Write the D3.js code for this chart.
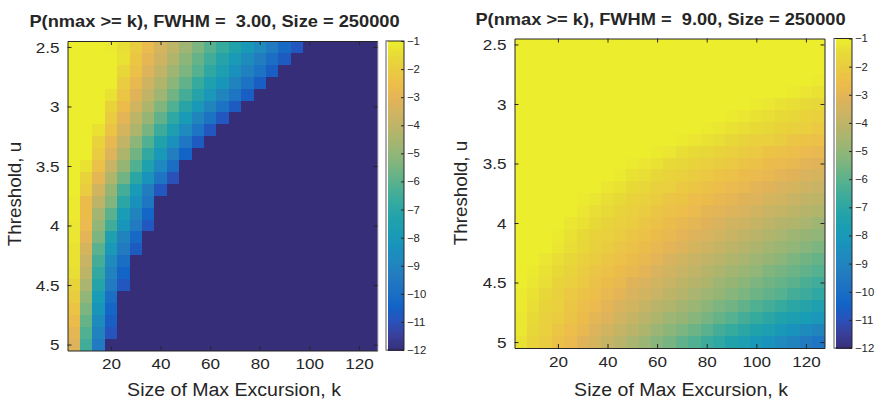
<!DOCTYPE html>
<html><head><meta charset="utf-8">
<script src="https://cdn.jsdelivr.net/npm/d3@7"></script>
<style>
body{margin:0;background:#fff}
svg{display:block}
text{font-family:"Liberation Sans",Arial,Helvetica,sans-serif;fill:#262626;white-space:pre}
</style>
</head><body>
<svg id="chart" width="877" height="401"></svg>
<script>
// ---------------- data ----------------
const kValues = [5,10,15,20,25,30,35,40,45,50,55,60,65,70,75,80,85,90,95,100,105,110,115,120,125];
const uValues = [2.5,2.6,2.7,2.8,2.9,3.0,3.1,3.2,3.3,3.4,3.5,3.6,3.7,3.8,3.9,4.0,4.1,4.2,4.3,4.4,4.5,4.6,4.7,4.8,4.9,5.0];
const xTickValues = [20,40,60,80,100,120];
const yTickValues = [2.5,3,3.5,4,4.5,5];
const yTickLabels = ["2.5","3","3.5","4","4.5","5"];
const colorbarTicks = [-1,-2,-3,-4,-5,-6,-7,-8,-9,-10,-11,-12];
const titleLeft = "P(nmax >= k), FWHM =  3.00, Size = 250000";
const titleRight = "P(nmax >= k), FWHM =  9.00, Size = 250000";
const xLabelText = "Size of Max Excursion, k";
const yLabelText = "Threshold, u";

// log10 P(nmax >= k), rows = threshold u, cols = k ; FWHM = 3
const logProbFWHM3 = [
[-1,-1,-1,-1.1,-1.4,-2,-2.7,-3.4,-4,-4.7,-5.4,-6.1,-6.7,-7.3,-8,-8.7,-9.4,-10.1,-10.8,-12,-12,-12,-12,-12,-12],
[-1,-1,-1,-1,-1.3,-2.2,-2.9,-3.6,-4.3,-5.1,-5.8,-6.5,-7.2,-7.9,-8.6,-9.3,-10,-10.7,-12,-12,-12,-12,-12,-12,-12],
[-1,-1,-1,-1,-1.6,-2.4,-3.2,-3.9,-4.7,-5.4,-6.1,-6.9,-7.6,-8.4,-9.1,-9.8,-10.6,-12,-12,-12,-12,-12,-12,-12,-12],
[-1,-1,-1,-1,-2,-2.8,-3.6,-4.3,-5.1,-5.9,-6.7,-7.5,-8.2,-9,-9.8,-10.6,-12,-12,-12,-12,-12,-12,-12,-12,-12],
[-1,-1,-1,-1.3,-2.2,-3.1,-3.9,-4.7,-5.6,-6.4,-7.2,-8.1,-8.9,-9.7,-10.6,-12,-12,-12,-12,-12,-12,-12,-12,-12,-12],
[-1,-1,-1,-1.7,-2.6,-3.5,-4.4,-5.3,-6.2,-7.1,-8,-8.9,-9.8,-10.7,-12,-12,-12,-12,-12,-12,-12,-12,-12,-12,-12],
[-1,-1,-1,-2,-3,-4,-4.9,-5.9,-6.9,-7.9,-8.9,-9.8,-10.8,-12,-12,-12,-12,-12,-12,-12,-12,-12,-12,-12,-12],
[-1,-1,-1.3,-2.3,-3.4,-4.4,-5.5,-6.6,-7.6,-8.7,-9.7,-10.8,-12,-12,-12,-12,-12,-12,-12,-12,-12,-12,-12,-12,-12],
[-1,-1,-1.7,-2.8,-3.9,-5.1,-6.2,-7.3,-8.4,-9.6,-10.7,-12,-12,-12,-12,-12,-12,-12,-12,-12,-12,-12,-12,-12,-12],
[-1,-1,-2,-3.2,-4.4,-5.6,-6.8,-8,-9.2,-10.4,-12,-12,-12,-12,-12,-12,-12,-12,-12,-12,-12,-12,-12,-12,-12],
[-1,-1.3,-2.4,-3.7,-4.9,-6.2,-7.5,-8.8,-10,-12,-12,-12,-12,-12,-12,-12,-12,-12,-12,-12,-12,-12,-12,-12,-12],
[-1,-1.7,-2.9,-4.3,-5.6,-7,-8.3,-9.7,-11,-12,-12,-12,-12,-12,-12,-12,-12,-12,-12,-12,-12,-12,-12,-12,-12],
[-1,-2,-3.5,-4.9,-6.4,-7.9,-9.3,-10.8,-12,-12,-12,-12,-12,-12,-12,-12,-12,-12,-12,-12,-12,-12,-12,-12,-12],
[-1.1,-2.6,-4,-5.3,-7,-8.4,-9.6,-12,-12,-12,-12,-12,-12,-12,-12,-12,-12,-12,-12,-12,-12,-12,-12,-12,-12],
[-1.1,-2.6,-4.6,-6,-7.8,-9,-10.3,-12,-12,-12,-12,-12,-12,-12,-12,-12,-12,-12,-12,-12,-12,-12,-12,-12,-12],
[-1.2,-2.7,-5,-6.5,-8.2,-9.4,-10.8,-12,-12,-12,-12,-12,-12,-12,-12,-12,-12,-12,-12,-12,-12,-12,-12,-12,-12],
[-1.2,-3,-5.4,-7.5,-9,-10.2,-12,-12,-12,-12,-12,-12,-12,-12,-12,-12,-12,-12,-12,-12,-12,-12,-12,-12,-12],
[-1.3,-3.4,-6,-8,-9.4,-10.7,-12,-12,-12,-12,-12,-12,-12,-12,-12,-12,-12,-12,-12,-12,-12,-12,-12,-12,-12],
[-1.3,-3.7,-6.4,-8.7,-10,-12,-12,-12,-12,-12,-12,-12,-12,-12,-12,-12,-12,-12,-12,-12,-12,-12,-12,-12,-12],
[-1.4,-4,-6.8,-9,-10.4,-12,-12,-12,-12,-12,-12,-12,-12,-12,-12,-12,-12,-12,-12,-12,-12,-12,-12,-12,-12],
[-1.7,-4.5,-7.2,-9.4,-10.8,-12,-12,-12,-12,-12,-12,-12,-12,-12,-12,-12,-12,-12,-12,-12,-12,-12,-12,-12,-12],
[-2,-5,-7.8,-10,-12,-12,-12,-12,-12,-12,-12,-12,-12,-12,-12,-12,-12,-12,-12,-12,-12,-12,-12,-12,-12],
[-2.3,-5.4,-8.2,-10.3,-12,-12,-12,-12,-12,-12,-12,-12,-12,-12,-12,-12,-12,-12,-12,-12,-12,-12,-12,-12,-12],
[-2.6,-5.8,-8.6,-10.6,-12,-12,-12,-12,-12,-12,-12,-12,-12,-12,-12,-12,-12,-12,-12,-12,-12,-12,-12,-12,-12],
[-2.9,-6.2,-9,-10.9,-12,-12,-12,-12,-12,-12,-12,-12,-12,-12,-12,-12,-12,-12,-12,-12,-12,-12,-12,-12,-12],
[-3.2,-6.5,-9.4,-12,-12,-12,-12,-12,-12,-12,-12,-12,-12,-12,-12,-12,-12,-12,-12,-12,-12,-12,-12,-12,-12]
];

// log10 P(nmax >= k) ; FWHM = 9
const logProbFWHM9 = [
[-1,-1,-1,-1,-1,-1,-1,-1,-1,-1,-1,-1,-1,-1,-1,-1,-1,-1,-1,-1,-1,-1,-1,-1,-1],
[-1,-1,-1,-1,-1,-1,-1,-1,-1,-1,-1,-1,-1,-1,-1,-1,-1,-1,-1,-1,-1,-1,-1,-1,-1],
[-1,-1,-1,-1,-1,-1,-1,-1,-1,-1,-1,-1,-1,-1,-1,-1,-1,-1,-1,-1,-1,-1,-1,-1,-1],
[-1,-1,-1,-1,-1,-1,-1,-1,-1,-1,-1,-1,-1,-1,-1,-1,-1,-1,-1,-1,-1,-1,-1,-1,-1.1],
[-1,-1,-1,-1,-1,-1,-1,-1,-1,-1,-1,-1,-1,-1,-1,-1,-1,-1,-1,-1,-1,-1,-1.1,-1.2,-1.3],
[-1,-1,-1,-1,-1,-1,-1,-1,-1,-1,-1,-1,-1,-1,-1,-1,-1,-1,-1,-1.1,-1.2,-1.3,-1.4,-1.5,-1.6],
[-1,-1,-1,-1,-1,-1,-1,-1,-1,-1,-1,-1,-1,-1,-1,-1,-1,-1.1,-1.2,-1.3,-1.4,-1.5,-1.6,-1.7,-1.8],
[-1,-1,-1,-1,-1,-1,-1,-1,-1,-1,-1,-1,-1,-1,-1,-1.1,-1.2,-1.3,-1.4,-1.5,-1.6,-1.7,-1.8,-1.9,-2.1],
[-1,-1,-1,-1,-1,-1,-1,-1,-1,-1,-1,-1,-1,-1.1,-1.2,-1.3,-1.4,-1.6,-1.7,-1.8,-1.9,-2,-2.2,-2.3,-2.4],
[-1,-1,-1,-1,-1,-1,-1,-1,-1,-1,-1,-1.1,-1.2,-1.4,-1.5,-1.6,-1.7,-1.9,-2,-2.1,-2.3,-2.4,-2.5,-2.7,-2.8],
[-1,-1,-1,-1,-1,-1,-1,-1,-1,-1.1,-1.2,-1.3,-1.5,-1.6,-1.7,-1.9,-2,-2.1,-2.3,-2.4,-2.6,-2.7,-2.8,-3,-3.1],
[-1,-1,-1,-1,-1,-1,-1,-1,-1.1,-1.3,-1.4,-1.6,-1.7,-1.8,-2,-2.1,-2.3,-2.4,-2.6,-2.7,-2.8,-3,-3.1,-3.3,-3.4],
[-1,-1,-1,-1,-1,-1,-1,-1.2,-1.3,-1.5,-1.6,-1.8,-1.9,-2.1,-2.2,-2.4,-2.5,-2.7,-2.8,-3,-3.1,-3.3,-3.4,-3.6,-3.7],
[-1,-1,-1,-1,-1,-1.1,-1.2,-1.4,-1.5,-1.7,-1.8,-2,-2.2,-2.3,-2.5,-2.6,-2.8,-2.9,-3.1,-3.2,-3.4,-3.5,-3.7,-3.9,-4],
[-1,-1,-1,-1,-1,-1.2,-1.4,-1.5,-1.7,-1.9,-2,-2.2,-2.4,-2.5,-2.7,-2.9,-3,-3.2,-3.3,-3.5,-3.7,-3.8,-4,-4.2,-4.3],
[-1,-1,-1,-1,-1.2,-1.3,-1.5,-1.7,-1.9,-2,-2.2,-2.4,-2.6,-2.8,-2.9,-3.1,-3.3,-3.5,-3.6,-3.8,-4,-4.2,-4.3,-4.5,-4.7],
[-1,-1,-1,-1.1,-1.3,-1.5,-1.7,-1.8,-2,-2.2,-2.4,-2.6,-2.8,-3,-3.2,-3.3,-3.5,-3.7,-3.9,-4.1,-4.3,-4.5,-4.7,-4.9,-5],
[-1,-1,-1,-1.2,-1.4,-1.6,-1.8,-2,-2.2,-2.4,-2.6,-2.8,-3,-3.2,-3.4,-3.6,-3.8,-4,-4.2,-4.4,-4.6,-4.8,-5,-5.2,-5.4],
[-1,-1,-1.2,-1.4,-1.6,-1.8,-2,-2.2,-2.4,-2.6,-2.8,-3,-3.3,-3.5,-3.7,-3.9,-4.1,-4.3,-4.5,-4.7,-4.9,-5.1,-5.4,-5.6,-5.8],
[-1,-1.1,-1.3,-1.5,-1.7,-2,-2.2,-2.4,-2.6,-2.8,-3,-3.3,-3.5,-3.7,-3.9,-4.2,-4.4,-4.6,-4.8,-5,-5.3,-5.5,-5.7,-5.9,-6.1],
[-1,-1.2,-1.4,-1.7,-1.9,-2.1,-2.4,-2.6,-2.8,-3.1,-3.3,-3.5,-3.7,-4,-4.2,-4.4,-4.7,-4.9,-5.1,-5.4,-5.6,-5.8,-6,-6.3,-6.5],
[-1.1,-1.3,-1.6,-1.8,-2.1,-2.3,-2.5,-2.8,-3,-3.3,-3.5,-3.7,-4,-4.2,-4.5,-4.7,-4.9,-5.2,-5.4,-5.7,-5.9,-6.1,-6.4,-6.6,-6.9],
[-1.1,-1.4,-1.7,-1.9,-2.2,-2.5,-2.7,-3,-3.3,-3.5,-3.8,-4.1,-4.3,-4.6,-4.8,-5.1,-5.4,-5.6,-5.9,-6.2,-6.4,-6.7,-7,-7.2,-7.5],
[-1.2,-1.5,-1.8,-2,-2.3,-2.6,-2.9,-3.2,-3.5,-3.8,-4.1,-4.4,-4.7,-4.9,-5.2,-5.5,-5.8,-6.1,-6.4,-6.7,-7,-7.3,-7.6,-7.8,-8.1],
[-1.2,-1.6,-1.9,-2.2,-2.5,-2.8,-3.2,-3.5,-3.8,-4.1,-4.4,-4.8,-5.1,-5.4,-5.7,-6,-6.4,-6.7,-7,-7.3,-7.6,-8,-8.3,-8.6,-8.9],
[-1.3,-1.7,-2,-2.4,-2.7,-3.1,-3.4,-3.8,-4.1,-4.5,-4.8,-5.2,-5.5,-5.9,-6.2,-6.6,-6.9,-7.3,-7.6,-8,-8.3,-8.7,-9,-9.4,-9.7]
];

// parula colormap anchor colours
const parulaStops = [
[.2081,.1663,.5292],[.2081,.2386,.6771],[.1253,.3242,.8303],[.0060,.4086,.8828],
[.0498,.4586,.8641],[.0779,.5040,.8384],[.0641,.5570,.8240],[.0265,.6137,.8135],
[.0228,.6535,.7768],[.0590,.6838,.7254],[.1453,.7098,.6646],[.2586,.7317,.5954],
[.3953,.7459,.5244],[.5300,.7491,.4661],[.6473,.7456,.4188],[.7525,.7384,.3768],
[.8507,.7299,.3360],[.9450,.7261,.2886],[.9990,.7653,.2164],[.9789,.8271,.1633],
[.9589,.8949,.1132],[.9763,.9831,.0538]
];
const cMin = -12, cMax = -1;

// ---------------- drawing ----------------
const svg = d3.select("#chart");
const cmapT = d3.scaleLinear()
  .domain(parulaStops.map((c,i)=>i/(parulaStops.length-1)))
  .range(parulaStops.map(c=>d3.rgb(c[0]*255,c[1]*255,c[2]*255).formatHex()))
  .interpolate(d3.interpolateRgb).clamp(true);
const vScale = d3.scaleLinear().domain([cMin,cMax]).range([0,1]).clamp(true);
// print-like rendering: slightly lower saturation and brightness
const SAT = 0.86, BRI = 0.945;
const colorOf = v => {
  const c = d3.rgb(cmapT(vScale(v)));
  const l = 0.299*c.r + 0.587*c.g + 0.114*c.b;
  const f = ch => Math.max(0, Math.min(255, (l + (ch - l)*SAT) * BRI + 4));
  return d3.rgb(f(c.r), f(c.g), f(c.b)).formatHex();
};
const AXC = "#262626";

const panels = [
  {title:titleLeft, data:logProbFWHM3, ax:{x:67.5,y:41,w:310,h:309.5}, cb:{x:386,y:41,w:18,h:309},
   titleX:214.5, titleY:26.5, xlabX:234, xlabY:396, ylabX:21, ylabY:194, rightEdge:"#bdbdbd"},
  {title:titleRight, data:logProbFWHM9, ax:{x:514.5,y:38.5,w:310,h:309.5}, cb:{x:834,y:38.5,w:18,h:309.5},
   titleX:660.5, titleY:25, xlabX:681, xlabY:396, ylabX:467, ylabY:193, rightEdge:AXC}
];

const TICK_FS = 14.5, TICK_SX = 1.18;
const CB_FS = 10.8, CB_SX = 1.05;

panels.forEach(p => {
  const a = p.ax;
  const x = d3.scaleLinear().domain([2.5,127.5]).range([a.x, a.x+a.w]);
  const y = d3.scaleLinear().domain([2.45,5.05]).range([a.y, a.y+a.h]);
  const g = svg.append("g");

  // cells
  const cells = [];
  p.data.forEach((row,j)=>row.forEach((v,i)=>cells.push({k:kValues[i],u:uValues[j],v})));
  g.append("g").attr("shape-rendering","crispEdges").selectAll("rect").data(cells).join("rect")
    .attr("x", d=>x(d.k-2.5)).attr("y", d=>y(d.u-0.05))
    .attr("width", d=>x(d.k+2.5)-x(d.k-2.5)+0.5).attr("height", d=>y(d.u+0.05)-y(d.u-0.05)+0.5)
    .attr("fill", d=>colorOf(d.v));

  // axes
  const bottom = g.append("g").attr("transform",`translate(0,${a.y+a.h})`).attr("color",AXC)
    .call(d3.axisBottom(x).tickValues(xTickValues).tickSizeInner(-4).tickSizeOuter(0).tickPadding(8.5));
  const left = g.append("g").attr("transform",`translate(${a.x},0)`).attr("color",AXC)
    .call(d3.axisLeft(y).tickValues(yTickValues).tickFormat((d,i)=>yTickLabels[i]).tickSizeInner(-4).tickSizeOuter(0).tickPadding(8));
  g.append("g").attr("transform",`translate(0,${a.y})`).attr("color",AXC)
    .call(d3.axisTop(x).tickValues(xTickValues).tickSizeInner(-4).tickSizeOuter(0).tickFormat(""));
  const right = g.append("g").attr("transform",`translate(${a.x+a.w},0)`).attr("color",AXC)
    .call(d3.axisRight(y).tickValues(yTickValues).tickSizeInner(-4).tickSizeOuter(0).tickFormat(""));
  right.select(".domain").attr("stroke", p.rightEdge);
  [bottom,left].forEach(ax=>ax.selectAll("text").style("font-size",TICK_FS+"px").attr("fill",AXC));
  bottom.selectAll("text").attr("transform",`scale(${TICK_SX},1)`);
  left.selectAll("text").attr("x",-8/TICK_SX).attr("dy","0.36em").attr("transform",`scale(${TICK_SX},1)`);
  g.selectAll(".domain").attr("stroke-width",1);

  // colorbar
  const c = p.cb;
  const cbScale = d3.scaleLinear().domain([cMin,cMax]).range([c.y+c.h, c.y]);
  const nBands = 132;
  const bands = d3.range(nBands).map(i=>cMin + (i+0.5)*(cMax-cMin)/nBands);
  const bh = c.h/nBands;
  g.append("g").attr("shape-rendering","crispEdges").selectAll("rect").data(bands).join("rect")
    .attr("x", c.x+1.5).attr("width", c.w-1.5)
    .attr("y", d=>cbScale(d)-bh/2).attr("height", bh+0.6)
    .attr("fill", d=>colorOf(d));
  g.append("rect").attr("x",c.x).attr("y",c.y).attr("width",c.w).attr("height",c.h)
    .attr("fill","none").attr("stroke",AXC).attr("stroke-width",1);
  g.append("line").attr("x1",c.x).attr("x2",c.x).attr("y1",c.y).attr("y2",c.y+c.h)
    .attr("stroke","#bdbdbd").attr("stroke-width",1.2);
  const cbAxis = g.append("g").attr("transform",`translate(${c.x+c.w},0)`).attr("color",AXC)
    .call(d3.axisRight(cbScale).tickValues(colorbarTicks).tickFormat(d3.format("d")).tickSizeInner(-3).tickSizeOuter(0).tickPadding(3));
  cbAxis.select(".domain").remove();
  cbAxis.selectAll("text").style("font-size",CB_FS+"px").attr("fill",AXC)
    .attr("x",3/CB_SX).attr("transform",`scale(${CB_SX},1)`);

  // title and labels
  g.append("text").attr("transform",`translate(${p.titleX},${p.titleY}) scale(1.12,1)`)
    .attr("text-anchor","middle").style("font-weight","bold").style("font-size","16.3px").attr("fill","#000")
    .text(p.title);
  g.append("text").attr("transform",`translate(${p.xlabX},${p.xlabY}) scale(1.04,1)`)
    .attr("text-anchor","middle").style("font-size","18.8px").attr("fill",AXC).text(xLabelText);
  g.append("text").attr("transform",`translate(${p.ylabX},${p.ylabY}) rotate(-90)`)
    .attr("text-anchor","middle").style("font-size","18.8px").attr("fill",AXC).text(yLabelText);
});
</script>
</body></html>
